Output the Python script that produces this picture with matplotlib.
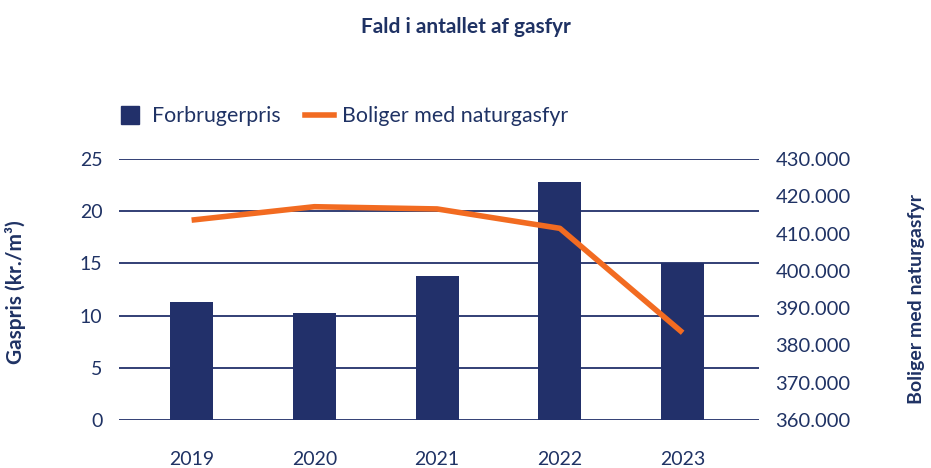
import matplotlib.pyplot as plt
from matplotlib.ticker import FuncFormatter
from matplotlib.lines import Line2D

years = ["2019", "2020", "2021", "2022", "2023"]
gaspris = [11.3, 10.25, 13.8, 22.8, 15.0]
boliger = [413600, 417200, 416600, 411400, 383400]

navy = "#22306A"
orange = "#F26B21"
txt = "#1F3264"

plt.rcParams['font.family'] = ['Lato', 'DejaVu Sans']

fig = plt.figure(figsize=(9.31, 4.68), dpi=100)
ax = fig.add_axes([0.128, 0.1026, 0.687, 0.5577])
x = range(len(years))

ax.bar(x, gaspris, width=0.35, color=navy, zorder=3)
ax.set_ylim(0, 25)
ax.set_yticks([0, 5, 10, 15, 20, 25])
ax.set_xlim(-0.59, 4.62)
ax.set_xticks(list(x))
ax.set_xticklabels(years)
ax.grid(axis='y', color=navy, linewidth=1.3, zorder=0)
for s in ax.spines.values():
    s.set_visible(False)
ax.tick_params(length=0, colors=txt, labelsize=14)
ax.tick_params(axis='x', pad=22)
ax.tick_params(axis='y', pad=12)
ax.set_ylabel("Gaspris (kr./m³)", color=txt, fontsize=15, fontweight='bold')
ax.yaxis.set_label_coords(-0.146, 0.49)

ax2 = ax.twinx()
ax2.plot(x, boliger, color=orange, linewidth=4, zorder=4, solid_capstyle='butt')
ax2.set_ylim(360000, 430000)
ax2.set_yticks(range(360000, 430001, 10000))
ax2.yaxis.set_major_formatter(FuncFormatter(lambda v, p: f"{int(v):,}".replace(",", ".")))
for s in ax2.spines.values():
    s.set_visible(False)
ax2.tick_params(length=0, colors=txt, labelsize=14.5, pad=12)
ax2.set_ylabel("Boliger med naturgasfyr", color=txt, fontsize=14, fontweight='bold')
ax2.yaxis.set_label_coords(1.234, 0.464)

fig.text(0.5, 0.943, "Fald i antallet af gasfyr", ha='center', va='center',
         color=txt, fontsize=15, fontweight='bold')

handles = [Line2D([0], [0], marker='s', color=navy, linestyle='none', markersize=13),
           Line2D([0], [0], color=orange, linewidth=4)]
fig.legend(handles, ["Forbrugerpris", "Boliger med naturgasfyr"], loc='center left',
           bbox_to_anchor=(0.124, 0.752), ncol=2, frameon=False, fontsize=15.4,
           labelcolor=txt, handlelength=1.36, columnspacing=1.15, handletextpad=0.35,
           borderpad=0, borderaxespad=0)

fig.savefig("out.png", dpi=100)
